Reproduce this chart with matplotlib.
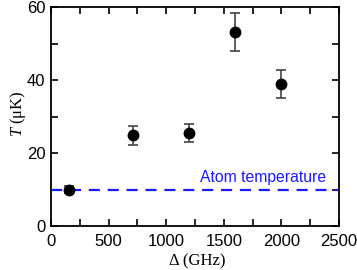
import matplotlib
matplotlib.use("Agg")
import matplotlib.pyplot as plt
from matplotlib.ticker import MultipleLocator

plt.rcParams['mathtext.fontset'] = 'custom'
plt.rcParams['mathtext.it'] = 'Liberation Serif:italic'
plt.rcParams['mathtext.rm'] = 'Liberation Serif'

detuning = [160, 710, 1200, 1600, 2000]
temperature = [10.0, 24.8, 25.4, 53.2, 38.9]
err_low = [1.0, 2.5, 2.5, 5.2, 3.9]
err_high = [1.0, 2.5, 2.6, 5.2, 3.9]
atom_temp = 10.0

fig = plt.figure(figsize=(3.57, 2.70), dpi=100)
ax = fig.add_axes([51/357, 1 - 226/270, (339-51)/357, (226-7)/270])

ax.errorbar(detuning, temperature, yerr=[err_low, err_high], fmt='o', color='black',
            ecolor='#444444', elinewidth=1.2, capsize=3.5, capthick=1.2, markersize=7.5, zorder=3)
ax.axhline(atom_temp, color='#1a1aff', linestyle=(0, (5, 3.5)), linewidth=1.6, zorder=2)
ax.text(2390, 12.0, 'Atom temperature', color='#1a1aff', fontsize=11.3,
        family='Liberation Sans', ha='right', va='baseline')

ax.set_xlim(0, 2500)
ax.set_ylim(0, 60)
ax.xaxis.set_major_locator(MultipleLocator(500))
ax.xaxis.set_minor_locator(MultipleLocator(250))
ax.yaxis.set_major_locator(MultipleLocator(20))
ax.yaxis.set_minor_locator(MultipleLocator(10))
ax.tick_params(which='both', direction='in', top=True, right=True, width=1.2)
ax.tick_params(which='major', length=5, labelsize=12, pad=4)
ax.tick_params(axis='x', which='major', pad=6)
ax.tick_params(which='minor', length=5)
for lab in ax.get_xticklabels() + ax.get_yticklabels():
    lab.set_family('Liberation Sans')
for s in ax.spines.values():
    s.set_linewidth(1.3)

ax.set_xlabel('Δ (GHz)', family='Liberation Serif', fontsize=12)
ax.xaxis.set_label_coords((197-51)/288, -(253-226)/219)
ax.set_ylabel(r'$T$ (μK)', family='Liberation Serif', fontsize=12)
ax.yaxis.set_label_coords(-(51-28)/288, (226-114)/219)

fig.savefig('out.png', dpi=100)
